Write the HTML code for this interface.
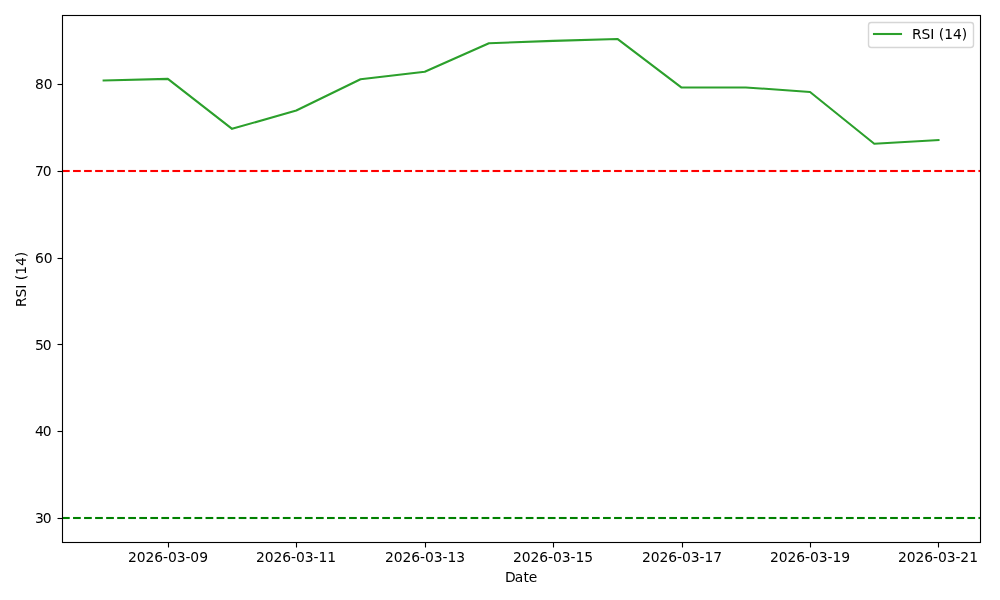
<!DOCTYPE html>
<html lang="en"><head><meta charset="utf-8"><title>RSI (14)</title>
<style>
html,body{margin:0;padding:0;background:#ffffff;}
body{width:1000px;height:600px;overflow:hidden;}
svg{display:block;}
svg text{font-family:"DejaVu Sans","Liberation Sans",sans-serif;font-size:13.8889px;fill:#000000;}
</style></head><body>
<svg width="1000" height="600" viewBox="0 0 1000 600">
<rect x="0" y="0" width="1000" height="600" fill="#ffffff"/>
<defs><clipPath id="axclip"><rect x="61.9028" y="15.0000" width="918.3245" height="526.7222"/></clipPath></defs>
<g stroke="#000000" stroke-width="1.1111" fill="none">
<line x1="168.5" y1="543.0" x2="168.5" y2="547.5"/>
<line x1="296.5" y1="543.0" x2="296.5" y2="547.5"/>
<line x1="425.5" y1="543.0" x2="425.5" y2="547.5"/>
<line x1="553.5" y1="543.0" x2="553.5" y2="547.5"/>
<line x1="682.5" y1="543.0" x2="682.5" y2="547.5"/>
<line x1="810.5" y1="543.0" x2="810.5" y2="547.5"/>
<line x1="938.5" y1="543.0" x2="938.5" y2="547.5"/>
<line x1="57.5" y1="518.5" x2="62.0" y2="518.5"/>
<line x1="57.5" y1="431.5" x2="62.0" y2="431.5"/>
<line x1="57.5" y1="344.5" x2="62.0" y2="344.5"/>
<line x1="57.5" y1="258.5" x2="62.0" y2="258.5"/>
<line x1="57.5" y1="171.5" x2="62.0" y2="171.5"/>
<line x1="57.5" y1="84.5" x2="62.0" y2="84.5"/>
</g>
<g text-anchor="middle">
<text id="xt1" text-anchor="start" x="127.963 136.718 145.473 154.229 162.984 167.927 176.682 185.437 190.130 199.135" y="562.000">2026-03-09</text>
<text id="xt2" text-anchor="start" x="255.938 264.707 273.476 282.245 291.014 295.970 304.740 313.509 318.465 327.234" y="562.000">2026-03-11</text>
<text id="xt3" text-anchor="start" x="385.037 393.792 402.547 411.303 420.058 425.001 433.756 442.511 447.454 456.209" y="562.000">2026-03-13</text>
<text id="xt4" text-anchor="start" x="512.974 521.729 530.484 539.240 547.995 552.938 561.693 570.448 575.391 584.146" y="562.000">2026-03-15</text>
<text id="xt5" text-anchor="start" x="642.011 650.766 659.521 668.277 677.032 681.975 690.730 699.485 704.428 713.183" y="562.000">2026-03-17</text>
<text id="xt6" text-anchor="start" x="770.048 778.803 787.558 796.314 805.069 810.012 818.767 827.522 832.465 841.220" y="562.000">2026-03-19</text>
<text id="xt7" text-anchor="start" x="897.985 906.740 915.495 924.251 933.006 937.949 946.704 955.459 960.152 969.157" y="562.000">2026-03-21</text>
<text id="xlab" text-anchor="start" x="504.879 514.801 523.551 528.754" y="582.000">Date</text>
</g>
<g text-anchor="end">
<text id="yt30" text-anchor="start" x="34.931 42.853" y="523.000">30</text>
<text id="yt40" text-anchor="start" x="34.931 42.853" y="436.000">40</text>
<text id="yt50" text-anchor="start" x="34.931 42.853" y="350.000">50</text>
<text id="yt60" text-anchor="start" x="34.956 43.753" y="263.000">60</text>
<text id="yt70" text-anchor="start" x="34.931 42.853" y="176.000">70</text>
<text id="yt80" text-anchor="start" x="34.956 43.753" y="89.000">80</text>
</g>
<text text-anchor="middle" textLength="55.250" transform="translate(26.063 279.411) rotate(-90)">RSI (14)</text>
<g clip-path="url(#axclip)" fill="none">
<polyline points="103.645,80.440 167.863,78.850 232.082,128.850 296.300,110.450 360.519,79.290 424.737,71.700 488.956,43.300 553.174,40.880 617.393,38.940 681.611,87.550 745.830,87.420 810.048,91.950 874.267,143.800 938.485,140.000" stroke="#2ca02c" stroke-width="2.0833" stroke-linecap="square" stroke-linejoin="round"/>
<line x1="62" y1="171" x2="980" y2="171" stroke="#ff0000" stroke-width="2.0833" stroke-dasharray="7.7083 3.3333"/>
<line x1="62" y1="518" x2="980" y2="518" stroke="#008000" stroke-width="2.0833" stroke-dasharray="7.7083 3.3333"/>
<line x1="62" y1="171" x2="980" y2="171" stroke="#ff0000" stroke-width="4" stroke-opacity="0.043" stroke-dasharray="7.7083 3.3333"/>
<line x1="62" y1="518" x2="980" y2="518" stroke="#008000" stroke-width="4" stroke-opacity="0.043" stroke-dasharray="7.7083 3.3333"/>
</g>
<rect x="62.5" y="15.5" width="918.0" height="527.0" fill="none" stroke="#000000" stroke-width="1.1111" stroke-linejoin="miter"/>
<rect x="868.5000" y="22.5000" width="105.0000" height="25.0000" rx="2.7778" ry="2.7778" fill="#ffffff" stroke="#cccccc" stroke-width="1.3889" opacity="0.8"/>
<line x1="874.0000" y1="34.0000" x2="901.0000" y2="34.0000" stroke="#2ca02c" stroke-width="2.0833" stroke-linecap="square"/>
<text id="legtext" text-anchor="start" x="911.937 921.560 930.339 934.399 938.787 944.176 952.971 961.765" y="39.000">RSI (14)</text>
</svg>
</body></html>
